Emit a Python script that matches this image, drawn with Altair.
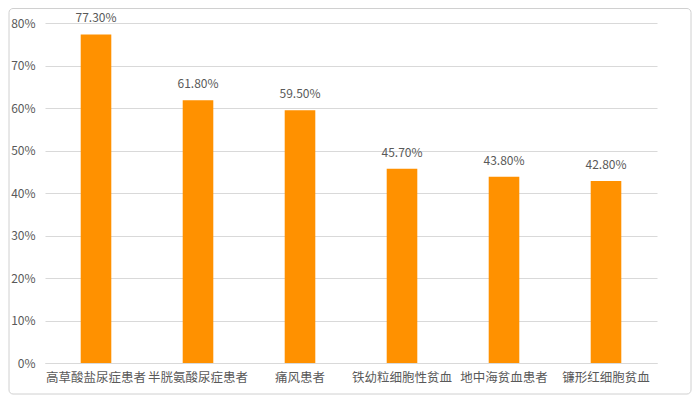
import altair as alt
import pandas as pd

categories = ["高草酸盐尿症患者", "半胱氨酸尿症患者", "痛风患者", "铁幼粒细胞性贫血", "地中海贫血患者", "镰形红细胞贫血"]
values = [77.3, 61.8, 59.5, 45.7, 43.8, 42.8]
y_ticks = [0, 0.1, 0.2, 0.3, 0.4, 0.5, 0.6, 0.7, 0.8]

df = pd.DataFrame({"cat": categories, "v": [v / 100 for v in values]})
df["label"] = [f"{v:.2f}%" for v in values]

FONT = "Noto Sans CJK SC"
GREY = "#595959"

x = alt.X("cat:N", sort=categories, title=None,
          scale=alt.Scale(paddingInner=0.7, paddingOuter=0.35),
          axis=alt.Axis(labelAngle=0, labelFontSize=12.5, labelColor=GREY, labelFont=FONT,
                        ticks=False, domainColor="#d9d9d9", labelPadding=8))
y = alt.Y("v:Q", title=None,
          scale=alt.Scale(domain=[0, 0.8], nice=False),
          axis=alt.Axis(format=".0%", values=y_ticks, labelFontSize=12, labelColor=GREY,
                        labelFont=FONT, ticks=False, domain=False, gridColor="#d9d9d9",
                        labelPadding=10))

base = alt.Chart(df)
bars = base.mark_bar(color="#FF9100").encode(x=x, y=y)
text = base.mark_text(dy=-16, fontSize=12, color=GREY, font=FONT).encode(x=x, y=y, text="label:N")

border = alt.Chart(pd.DataFrame({"a": [0]})).mark_rect(
    fill=None, stroke="#d0d0d0", strokeWidth=1, cornerRadius=4, clip=False
).encode(x=alt.value(-36), x2=alt.value(646), y=alt.value(-14.5), y2=alt.value(371))

chart = alt.layer(bars, text, border).properties(
    width=612, height=340,
    autosize=alt.AutoSizeParams(type="none"),
    padding={"left": 37, "top": 15, "right": 35, "bottom": 32},
).configure_view(stroke=None)

chart.save("out.html", embed_options={"renderer": "svg", "actions": False})
